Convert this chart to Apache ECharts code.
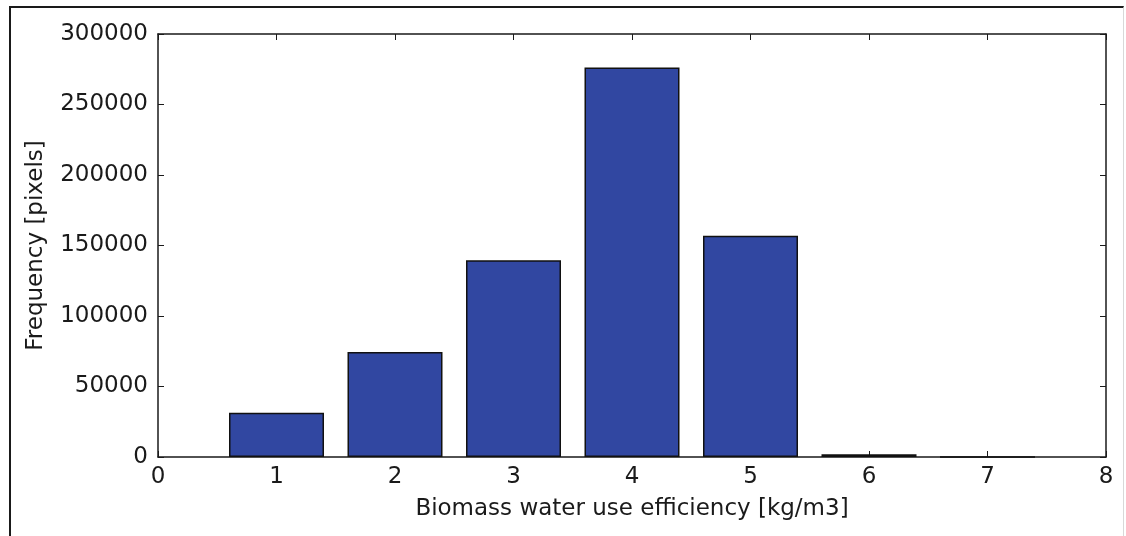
<!DOCTYPE html>
<html>
<head>
<meta charset="utf-8">
<script src="https://cdn.jsdelivr.net/npm/echarts@6/dist/echarts.min.js"></script>
<style>
  html, body { margin: 0; padding: 0; background: #fff; }
  #frame {
    position: absolute; left: 9px; top: 6px; width: 1112px; height: 540px;
    border-left: 2px solid #1a1a1a; border-top: 2px solid #1a1a1a;
    border-right: 1px solid #d8d8d8;
  }
  #chart { position: absolute; left: 0; top: 0; width: 1126px; height: 536px; }
</style>
</head>
<body>
<div id="frame"></div>
<div id="chart"></div>
<script>
// 直方图数据
var binCenters = [1, 2, 3, 4, 5, 6, 7];
var counts = [31400, 74500, 139500, 276300, 157000, 2000, 0];
var xLabel = 'Biomass water use efficiency [kg/m3]';
var yLabel = 'Frequency [pixels]';

var barData = [];
for (var i = 0; i < binCenters.length; i++) {
	barData.push([binCenters[i], counts[i]]);
}

var font = 'DejaVu Sans';
var ink = '#1a1a1a';
// 四边的刻度都朝里
function tick() {
	return { show : true, inside : true, length : 6, lineStyle : { color : ink, width : 1 } };
}
function line() {
	return { show : true, onZero : false, lineStyle : { color : ink, width : 1.5 } };
}

var chart = echarts.init(document.getElementById('chart'));
var option = {
	animation : false,
	grid : {
		left : 158,
		right : 20,
		top : 34,
		bottom : 79
	},
	xAxis : [ {
		type : 'value',
		min : 0,
		max : 8,
		interval : 1,
		name : xLabel,
		nameLocation : 'middle',
		nameGap : 41,
		nameTextStyle : { fontFamily : font, fontSize : 23, color : ink },
		axisLine : line(),
		axisTick : tick(),
		axisLabel : { fontFamily : font, fontSize : 23, color : ink, margin : 9 },
		splitLine : { show : false }
	}, {
		type : 'value',
		position : 'top',
		min : 0,
		max : 8,
		interval : 1,
		axisLine : line(),
		axisTick : tick(),
		axisLabel : { show : false },
		splitLine : { show : false }
	} ],
	yAxis : [ {
		type : 'value',
		min : 0,
		max : 300000,
		interval : 50000,
		name : yLabel,
		nameLocation : 'middle',
		nameGap : 110,
		nameTextStyle : { fontFamily : font, fontSize : 23, color : ink },
		axisLine : line(),
		axisTick : tick(),
		axisLabel : {
			fontFamily : font, fontSize : 23, color : ink, margin : 10,
			formatter : function(v) { return String(v); }
		},
		splitLine : { show : false }
	}, {
		type : 'value',
		position : 'right',
		min : 0,
		max : 300000,
		interval : 50000,
		axisLine : line(),
		axisTick : tick(),
		axisLabel : { show : false },
		splitLine : { show : false }
	} ],
	series : [ {
		type : 'bar',
		data : barData,
		barWidth : 95,
		itemStyle : {
			color : '#3147a1',
			borderColor : '#111',
			borderWidth : 1.5
		}
	} ]
};
chart.setOption(option);
</script>
</body>
</html>
